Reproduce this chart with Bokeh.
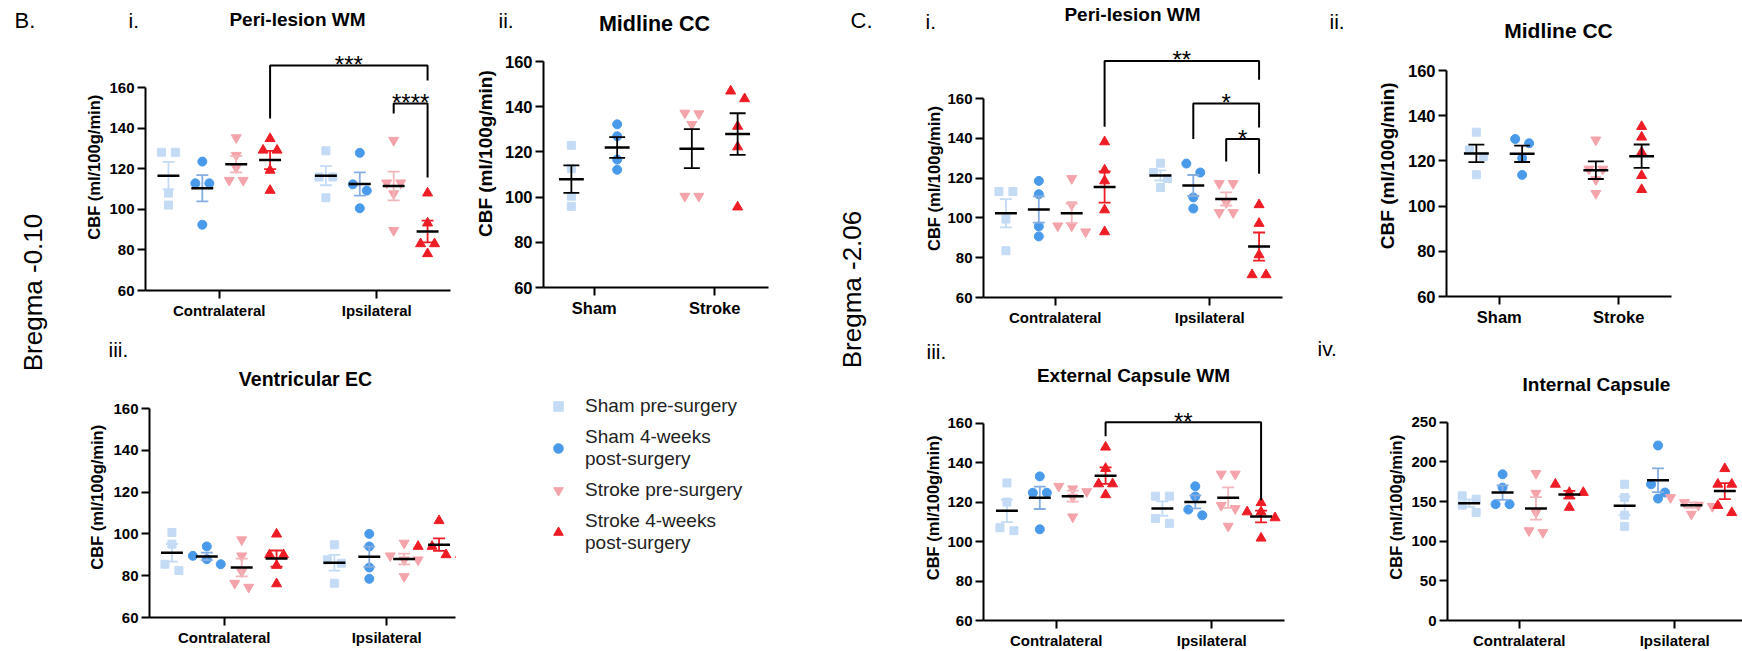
import numpy as np
from bokeh.plotting import figure
from bokeh.layouts import row, column
from bokeh.models import Range1d, FixedTicker, Label, Legend, LegendItem
from bokeh.embed import file_html
from bokeh.resources import INLINE

FONT = "Liberation Sans"

# ------------------------------------------------------------------ data
SERIES = ["Sham pre-surgery", "Sham 4-weeks\npost-surgery",
          "Stroke pre-surgery", "Stroke 4-weeks\npost-surgery"]
SIDES = ["Contralateral", "Ipsilateral"]
CONDITIONS = ["Sham", "Stroke"]
Y_TICKS = [60, 80, 100, 120, 140, 160]
Y_TICKS_IC = [0, 50, 100, 150, 200, 250]
Y_LABEL = "CBF (ml/100g/min)"

# Bregma -0.10  i. Peri-lesion WM   (sham pre, sham post, stroke pre, stroke post)
B1_CONTRA = [[128.1, 128.1, 108.0, 102.1], [123.5, 112.8, 112.8, 92.4],
             [135.3, 126.6, 120.5, 114.3, 114.3], [134.8, 129.1, 129.1, 119.2, 109.3]]
B1_IPSI = [[128.8, 115.9, 115.9, 105.7], [127.8, 112.3, 109.2, 100.5],
           [134.0, 113.0, 113.0, 107.7, 89.6], [108.0, 93.2, 83.0, 83.0, 78.1]]
# ii. Midline CC  (sham: pre, post / stroke: pre, post)
B2_SHAM = [[122.9, 112.6, 100.4, 95.9], [132.2, 126.9, 116.6, 112.1]]
B2_STROKE = [[137.2, 136.9, 132.2, 100.4, 100.4], [146.9, 143.5, 131.3, 122.2, 95.6]]
# iii. Ventricular EC
B3_CONTRA = [[100.7, 95.1, 85.5, 82.5], [94.0, 89.5, 87.9, 85.5],
             [97.2, 89.5, 81.9, 76.4, 74.5], [99.9, 90.0, 90.0, 84.9, 76.1]]
B3_IPSI = [[94.8, 87.6, 86.0, 76.4], [100.0, 94.0, 83.9, 78.5],
           [95.6, 89.5, 87.6, 87.6, 79.6], [106.3, 94.0, 94.0, 90.0, 90.0]]

# Bregma -2.06  i. Peri-lesion WM
C1_CONTRA = [[113.3, 113.3, 99.4, 83.5], [118.6, 111.9, 95.7, 90.7],
             [119.8, 106.6, 96.0, 96.0, 93.0], [138.2, 124.0, 118.6, 104.0, 93.0]]
C1_IPSI = [[127.5, 122.8, 119.8, 115.3], [127.3, 122.8, 110.3, 104.7],
           [117.3, 117.3, 107.7, 102.7, 102.7], [106.6, 97.2, 81.4, 71.4, 71.4]]
# ii. Midline CC
C2_SHAM = [[132.7, 124.8, 121.9, 113.9], [129.7, 127.8, 121.2, 113.8]]
C2_STROKE = [[129.3, 116.4, 116.4, 111.7, 105.6], [135.2, 130.5, 123.8, 113.5, 107.3]]
# iii. External Capsule WM
C3_CONTRA = [[129.7, 120.0, 107.0, 105.5], [133.0, 124.7, 124.7, 106.2],
             [128.0, 126.7, 125.3, 122.5, 112.5], [147.8, 137.0, 129.2, 129.2, 123.7]]
C3_IPSI = [[123.0, 123.0, 111.7, 109.2], [128.0, 122.8, 116.2, 113.3],
           [134.2, 134.2, 118.3, 116.7, 107.8], [119.7, 115.0, 115.0, 112.0, 101.7]]
# iv. Internal Capsule
C4_CONTRA = [[157.2, 153.0, 145.5, 136.3], [184.4, 167.6, 146.7, 146.7],
             [185.6, 160.5, 136.3, 113.3, 111.2], [171.8, 161.4, 161.4, 157.2, 142.6]]
C4_IPSI = [[171.8, 155.1, 132.9, 118.7], [220.7, 171.8, 161.4, 153.8],
           [155.1, 148.8, 145.5, 143.9, 134.2], [191.5, 171.8, 171.8, 145.0, 136.0]]

# significance brackets: (group, series) -> (group, series), top, left foot, right foot, label
B1_BRACKETS = [((0, 3), (1, 3), 170.8, 144.7, 163.4, "***"),
               ((1, 2), (1, 3), 152.1, 147.2, 115.7, "****")]
C1_BRACKETS = [((0, 3), (1, 3), 178.9, 145.8, 169.4, "**"),
               ((1, 1), (1, 3), 157.5, 139.7, 145.4, "*"),
               ((1, 2), (1, 3), 139.6, 128.3, 122.2, "*")]
C3_BRACKETS = [((0, 3), (1, 3), 160.4, 153.4, 120.9, "**")]

# ------------------------------------------------------------------ style
MARKERS = ["square", "circle", "inverted_triangle", "triangle"]
SIZES = [8, 9, 10, 10]
FILL = ["#C4DBF5", "#4A9AEB", "#F4A3AA", "#EE1C25"]
ERR = ["#C4DBF5", "#86ADDF", "#F2B5BA", "#EE1C25"]


def blank(X0, Y0, W, H):
    """Empty figure whose data coordinates are page pixels (y negated)."""
    p = figure(width=W, height=H, x_range=Range1d(X0, X0 + W),
               y_range=Range1d(-(Y0 + H), -Y0), x_axis_type=None,
               y_axis_type=None, output_backend="svg", toolbar_location=None,
               min_border=0)
    p.outline_line_color = None
    p.grid.visible = False
    return p


def put(p, text, x, y, size, align="left", style="normal", angle=0):
    p.add_layout(Label(x=x, y=-y, text=text, text_align=align,
                       text_baseline="middle", angle=angle, angle_units="deg",
                       text_font=FONT, text_font_size=size,
                       text_font_style=style, text_color="black"))


def swarm(vals, k, G, gap_px=14, thr_px=9):
    order = np.argsort(-vals, kind="stable")
    clusters = []
    for i in order:
        if clusters and abs(vals[clusters[-1][0]] - vals[i]) * k < thr_px:
            clusters[-1].append(i)
        else:
            clusters.append([i])
    offs = np.zeros(len(vals))
    for c in clusters:
        n = len(c)
        for j, i in enumerate(c):
            offs[i] = (j - (n - 1) / 2) * gap_px / G
    return offs


def panel(L, groups, labels, sids, yticks, title, tsize, txy, numeral, nxy,
          ylab_x, brackets=(), err_black=False, mean_hw=11, cap_hw=6,
          tick_size="15px", ylab_size="16.5px", left_need=38):
    X0, Y0, W, H, HH = L["X0"], L["Y0"], L["W"], L["H"], L["HH"]
    G = L["g1"] - L["g0"]
    ymin, ymax = yticks[0], yticks[-1]
    k = (L["FB"] - L["AT"]) / (ymax - ymin)
    PT = Y0 + HH                # top of plot figure
    SX = L["FL"] - left_need    # left of plot figure

    def dx(px):
        return (px - L["g0"]) / G

    def dy(py):
        return ymin + (L["FB"] - py) / k

    # header: panel numeral and title
    hd = blank(X0, Y0, W, HH)
    put(hd, title, txy[0], txy[1], tsize, align="center", style="bold")
    put(hd, numeral, nxy[0], nxy[1], "21px")

    # y-axis title strip
    ys = blank(X0, PT, SX - X0, Y0 + H - PT)
    put(ys, Y_LABEL, ylab_x, (L["AT"] + L["FB"]) / 2, ylab_size,
        align="center", style="bold", angle=90)

    p = figure(width=X0 + W - SX, height=Y0 + H - PT,
               x_range=Range1d(dx(L["FL"]), dx(L["FR"])),
               y_range=Range1d(ymin, dy(PT)),
               output_backend="svg", toolbar_location=None,
               min_border_left=left_need,
               min_border_right=X0 + W - L["FR"],
               min_border_top=0,
               min_border_bottom=Y0 + H - L["FB"])
    p.outline_line_color = None
    p.grid.visible = False

    p.xaxis.ticker = FixedTicker(ticks=list(range(len(groups))))
    p.xaxis.major_label_overrides = {i: lab for i, lab in enumerate(labels)}
    p.yaxis.ticker = FixedTicker(ticks=yticks)
    p.yaxis.bounds = (ymin, ymax)
    for ax in (p.xaxis[0], p.yaxis[0]):
        ax.axis_line_width = 2
        ax.axis_line_color = "black"
        ax.major_tick_line_width = 2
        ax.major_tick_line_color = "black"
        ax.major_tick_out = 8
        ax.major_tick_in = 0
        ax.minor_tick_line_color = None
        ax.major_label_text_font = FONT
        ax.major_label_text_font_style = "bold"
        ax.major_label_text_font_size = tick_size
        ax.major_label_text_color = "black"
    p.xaxis.major_label_standoff = 3
    p.yaxis.major_label_standoff = 3

    pos = {}
    for gi, grp in enumerate(groups):
        n = len(grp)
        for j, vals in enumerate(grp):
            s = sids[gi][j]
            xc = gi + (j - (n - 1) / 2) * L["d"] / G
            pos[(gi, j)] = xc
            v = np.array(vals, dtype=float)
            xs = xc + swarm(v, k, G)
            p.scatter(xs, v, marker=MARKERS[s], size=SIZES[s],
                      fill_color=FILL[s], line_color=FILL[s])
            m = v.mean()
            se = v.std(ddof=1) / np.sqrt(len(v))
            ec = "black" if err_black else ERR[s]
            cw = cap_hw / G
            p.segment([xc, xc - cw, xc - cw], [m - se, m + se, m - se],
                      [xc, xc + cw, xc + cw], [m + se, m + se, m - se],
                      line_color=ec, line_width=1.8)
            hw = mean_hw / G
            p.segment([xc - hw], [m], [xc + hw], [m], line_color="black",
                      line_width=2.5)

    for (ga, sa), (gb, sb), top, lf, rf, lab in brackets:
        xa, xb = pos[(ga, sa)], pos[(gb, sb)]
        p.line([xa, xa, xb, xb], [lf, top, top, rf], line_color="black",
               line_width=2)
        p.add_layout(Label(x=(xa + xb) / 2, y=top + 1.0 / k, text=lab,
                           text_align="center", text_baseline="alphabetic",
                           text_font=FONT, text_font_size="24px",
                           text_color="black"))

    return column(hd, row(ys, p))


def lay(X0, Y0, W, H, HH, FL, FR, FB, AT, g0, g1, d):
    return dict(X0=X0, Y0=Y0, W=W, H=H, HH=HH, FL=FL, FR=FR, FB=FB, AT=AT,
                g0=g0, g1=g1, d=d)


four = [[0, 1, 2, 3], [0, 1, 2, 3]]
two = [[0, 1], [2, 3]]
MID = dict(err_black=True, mean_hw=12.5, cap_hw=8, tick_size="16.5px",
           ylab_size="19px", left_need=41)

b1 = panel(lay(70, 0, 388, 333, 40, 144, 450, 290, 87, 218, 376, 34),
           [B1_CONTRA, B1_IPSI], SIDES, four, Y_TICKS, "Peri-lesion WM", "19px",
           (297, 19), "i.", (128, 20), 93, brackets=B1_BRACKETS)
b2 = panel(lay(458, 0, 322, 333, 42, 542, 768, 287, 61, 593, 714, 46),
           [B2_SHAM, B2_STROKE], CONDITIONS, two, Y_TICKS, "Midline CC", "21.5px",
           (654, 23), "ii.", (498, 20), 485, **MID)
b3 = panel(lay(70, 333, 388, 318, 60, 148, 455, 617, 408, 223, 386, 35),
           [B3_CONTRA, B3_IPSI], SIDES, four, Y_TICKS, "Ventricular EC", "19.5px",
           (305, 378), "iii.", (108, 349), 96)
c1 = panel(lay(900, 0, 400, 333, 38, 982, 1282, 297, 98, 1054, 1209, 33),
           [C1_CONTRA, C1_IPSI], SIDES, four, Y_TICKS, "Peri-lesion WM", "19px",
           (1132, 14), "i.", (925, 21), 933, brackets=C1_BRACKETS)
c2 = panel(lay(1300, 0, 442, 333, 45, 1445, 1671, 296, 70, 1498, 1618, 46),
           [C2_SHAM, C2_STROKE], CONDITIONS, two, Y_TICKS, "Midline CC", "21px",
           (1558, 30), "ii.", (1329, 21), 1387, **MID)
c3 = panel(lay(900, 333, 400, 318, 59, 982, 1284, 623, 423, 1055, 1211, 33),
           [C3_CONTRA, C3_IPSI], SIDES, four, Y_TICKS, "External Capsule WM", "19px",
           (1133, 375), "iii.", (926, 351), 932, brackets=C3_BRACKETS)
c4 = panel(lay(1300, 333, 442, 318, 64, 1446, 1742, 622, 422, 1518, 1674, 33.5),
           [C4_CONTRA, C4_IPSI], SIDES, four, Y_TICKS_IC, "Internal Capsule", "19px",
           (1596, 384), "iv.", (1317, 348), 1395)

sb = blank(0, 0, 70, 651)
put(sb, "B.", 14, 20, "22px")
put(sb, "Bregma -0.10", 32.5, 292, "26px", align="center", angle=90)
sc = blank(780, 0, 120, 651)
put(sc, "C.", 850, 20, "22px")
put(sc, "Bregma -2.06", 851.5, 289, "26px", align="center", angle=90)

# legend panel (frame starts 27 px in, legend offset 61 px from frame's top-left)
lg = figure(width=322, height=318, x_range=Range1d(0, 1), y_range=Range1d(0, 1),
            x_axis_type=None, y_axis_type=None, output_backend="svg",
            toolbar_location=None, min_border=0, min_border_left=27)
lg.outline_line_color = None
lg.grid.visible = False
items = []
for s, name in enumerate(SERIES):
    r = lg.scatter([-5], [-5], marker=MARKERS[s], size=SIZES[s],
                   fill_color=FILL[s], line_color=FILL[s])
    items.append(LegendItem(label=name, renderers=[r]))
leg = Legend(items=items, location="top_left", orientation="vertical",
             label_text_font=FONT, label_text_font_size="19px",
             label_text_color="#222222", glyph_width=24, glyph_height=24,
             label_standoff=15, spacing=8, padding=0, margin=61,
             border_line_color=None, background_fill_alpha=0)
lg.add_layout(leg)

layout = row(sb, column(row(b1, b2), row(b3, lg)), sc,
             column(row(c1, c2), row(c3, c4)))

open("out.html", "w").write(file_html(layout, INLINE))
